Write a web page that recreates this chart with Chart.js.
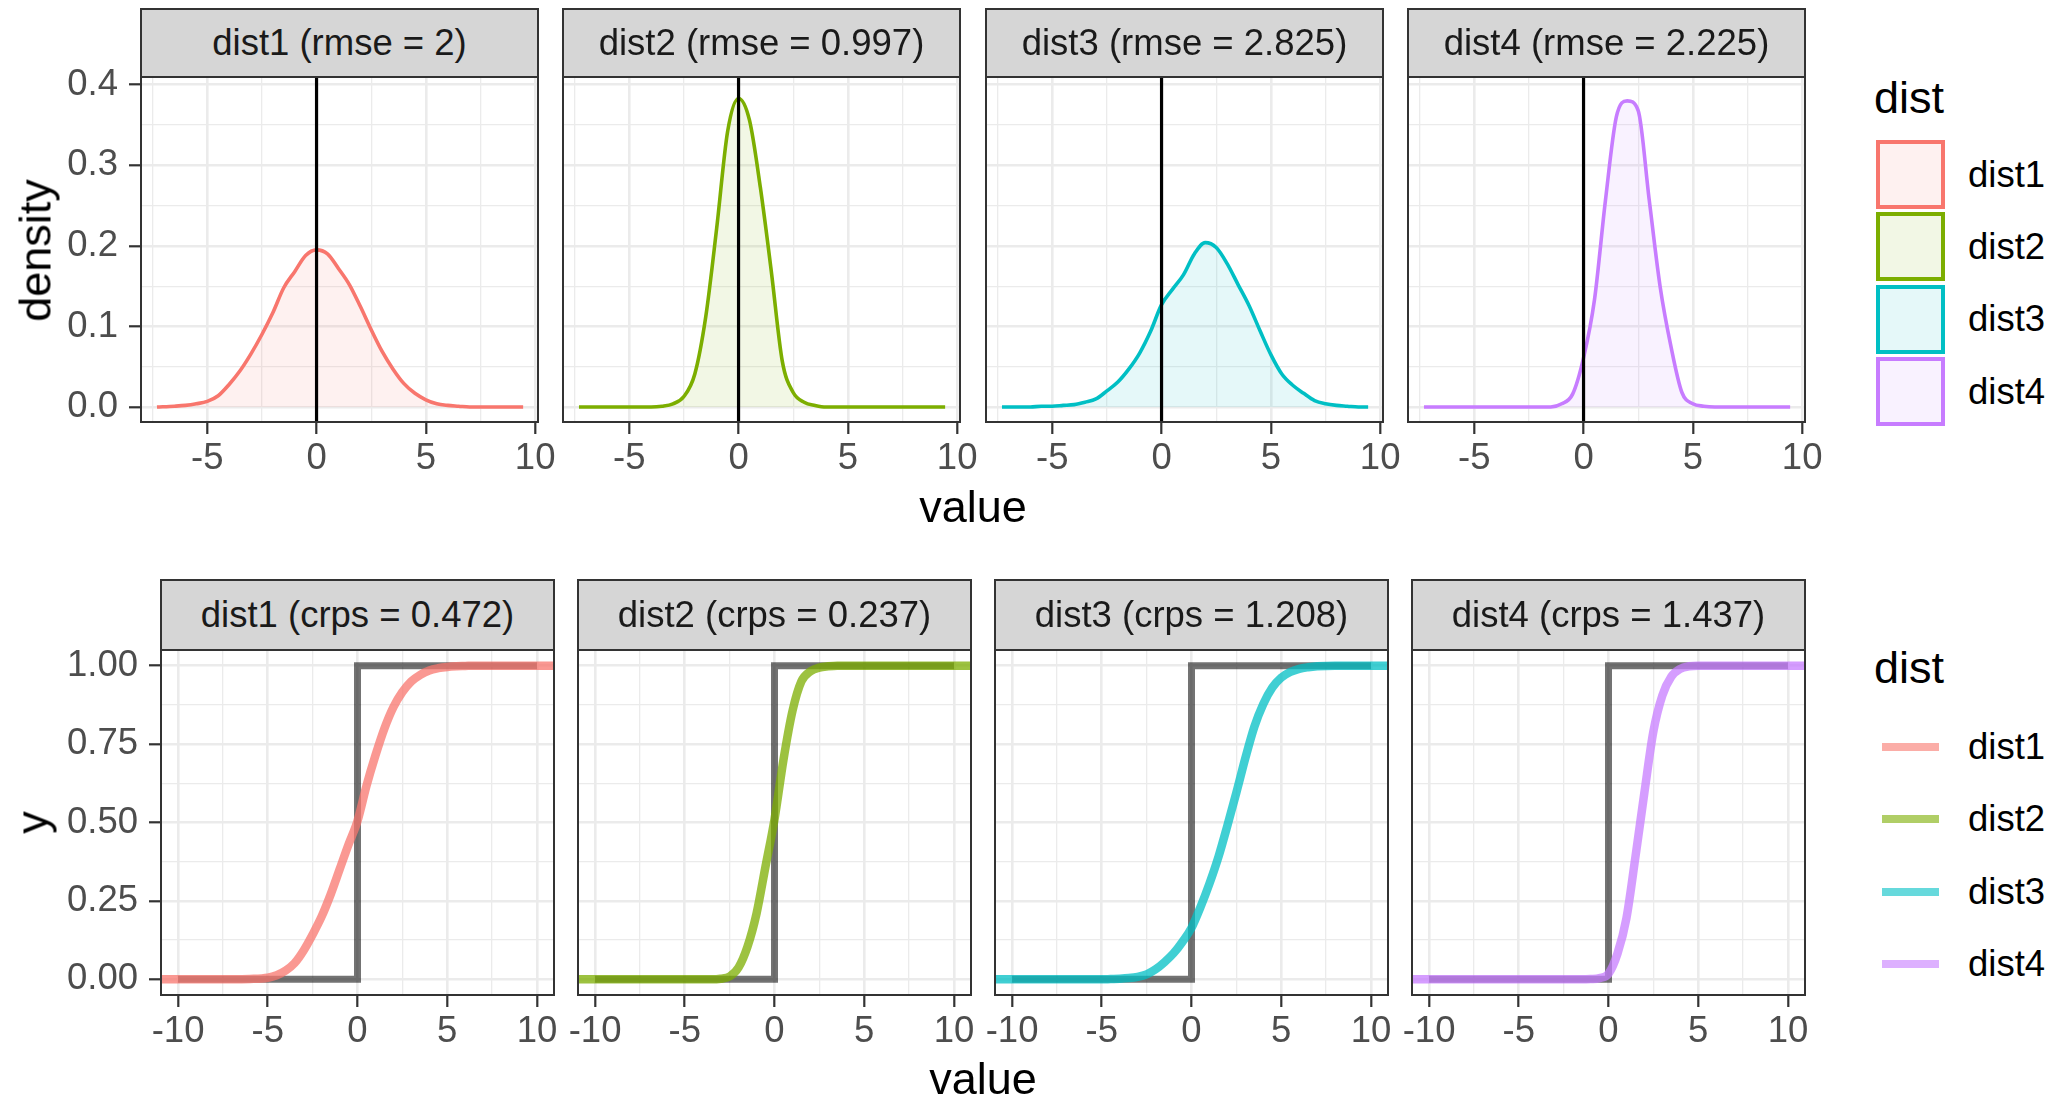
<!DOCTYPE html>
<html><head><meta charset="utf-8">
<script src="https://cdn.jsdelivr.net/npm/chart.js@4.4.1/dist/chart.umd.min.js"></script>
<style>
html,body{margin:0;padding:0;background:#fff;}
body{position:relative;width:2067px;height:1098px;overflow:hidden;font-family:'Liberation Sans',Arial,Helvetica,sans-serif;}
canvas{position:absolute;}
.strip{position:absolute;box-sizing:border-box;background:#D6D6D6;border:2px solid #333;color:#1A1A1A;font-size:36.5px;display:flex;align-items:center;justify-content:center;white-space:nowrap;z-index:3;}
.txt{position:absolute;white-space:nowrap;color:#000;}
.title{font-size:45px;line-height:45px;height:45px;width:300px;text-align:center;}
.leg{font-size:36.5px;line-height:36px;height:36px;}
.key{position:absolute;box-sizing:border-box;}
</style></head><body>
<script>
// ---------- data ----------
const distNames = ['dist1','dist2','dist3','dist4'];
const distColors = ['#F8766D','#7CAE00','#00BFC4','#C77CFF'];
const rmseValues = ['2','0.997','2.825','2.225'];
const crpsValues = ['0.472','0.237','1.208','1.437'];
const observed = 0;

const densityX = [-7.3,-6.5,-6,-5.5,-5,-4.5,-4,-3.5,-3,-2.5,-2,-1.5,-1,-0.5,0,0.5,1,1.5,2,2.5,3,3.5,4,4.5,5,5.5,6,6.5,7,7.5,8,8.5,9,9.45];
const density1 = [0,0.001,0.002,0.004,0.007,0.014,0.028,0.045,0.066,0.09,0.117,0.148,0.168,0.188,0.195,0.19,0.172,0.152,0.125,0.096,0.069,0.047,0.029,0.017,0.009,0.004,0.002,0.001,0,0,0,0,0,0];
const density2 = [0,0,0,0,0,0,0,0.001,0.004,0.013,0.041,0.112,0.222,0.342,0.383,0.356,0.272,0.168,0.057,0.018,0.006,0.002,0,0,0,0,0,0,0,0,0,0,0,0];
const density3 = [0,0,0,0.001,0.001,0.002,0.003,0.006,0.01,0.02,0.031,0.047,0.067,0.094,0.127,0.146,0.164,0.19,0.204,0.198,0.178,0.152,0.126,0.095,0.065,0.041,0.027,0.017,0.008,0.004,0.002,0.001,0,0];
const density4 = [0,0,0,0,0,0,0,0,0,0,0,0,0.004,0.016,0.061,0.133,0.256,0.36,0.38,0.368,0.258,0.15,0.075,0.018,0.004,0.001,0,0,0,0,0,0,0,0];

const cdfX = [-11,-10,-9,-8,-7,-6,-5,-4.5,-4,-3.5,-3,-2.5,-2,-1.5,-1,-0.5,0,0.5,1,1.5,2,2.5,3,3.5,4,4.5,5,5.5,6,6.5,7,8,9,10,11];
const cdf1 = [0,0,0,0,0,0.001,0.005,0.013,0.028,0.052,0.092,0.143,0.2,0.27,0.35,0.43,0.505,0.617,0.714,0.8,0.868,0.916,0.95,0.971,0.985,0.992,0.996,0.998,0.999,1,1,1,1,1,1];
const cdf2 = [0,0,0,0,0,0,0,0,0,0,0.002,0.009,0.038,0.105,0.21,0.36,0.51,0.7,0.855,0.95,0.982,0.994,0.998,1,1,1,1,1,1,1,1,1,1,1,1];
const cdf3 = [0,0,0,0,0,0,0,0.001,0.002,0.004,0.008,0.016,0.032,0.055,0.083,0.12,0.164,0.23,0.305,0.39,0.49,0.595,0.705,0.805,0.878,0.93,0.962,0.98,0.99,0.995,0.998,1,1,1,1];
const cdf4 = [0,0,0,0,0,0,0,0,0,0,0,0,0,0,0.001,0.004,0.018,0.082,0.195,0.39,0.595,0.79,0.905,0.965,0.99,0.998,1,1,1,1,1,1,1,1,1];

// observation as a CDF step: 0 below the observed value, 1 from it on
const obsStepX = [-10, observed, observed, 10];
const obsStepY = [0, 0, 1, 1];

const densityXTicks = [-5,0,5,10];
const densityYTicks = [0,0.1,0.2,0.3,0.4];
const cdfXTicks = [-10,-5,0,5,10];
const cdfYTicks = [0,0.25,0.5,0.75,1];

const densitySeries = [density1,density2,density3,density4];
const cdfSeries = [cdf1,cdf2,cdf3,cdf4];

// ---------- layout ----------
const FONT = "'Liberation Sans', Arial, Helvetica, sans-serif";
Chart.defaults.font.family = FONT;
const topRow = {lefts:[141,563,986,1408], w:397, top:77, h:345, xMin:-8.03, xMax:10.13, yMin:-0.0186, yMax:0.4096};
const botRow = {lefts:[161,578,995,1412], w:393, top:650, h:345, xMin:-10.95, xMax:10.95, yMin:-0.05, yMax:1.05};

function hexA(hex, a){const n=parseInt(hex.slice(1),16);return `rgba(${n>>16&255},${n>>8&255},${n&255},${a})`;}
function pts(xs, ys){return xs.map((x,i)=>({x:x,y:ys[i]}));}
function withMinors(majors, min, max){
  const step = majors[1]-majors[0];
  const minors = majors.map(m=>m-step/2).concat([majors[majors.length-1]+step/2]).filter(v=>v>min&&v<max);
  return majors.concat(minors).sort((a,b)=>a-b);
}
function isMajor(list, v){return list.some(m=>Math.abs(m-v)<1e-9);}

const panelBorder = {id:'panelBorder', afterDraw(chart){
  const {ctx, chartArea:a} = chart; ctx.save(); ctx.strokeStyle='#333333'; ctx.lineWidth=2;
  ctx.strokeRect(a.left, a.top, a.right-a.left, a.bottom-a.top); ctx.restore();
}};

function makeScale(axis, min, max, majors, showLabels, fmt, sizeFn){
  const all = withMinors(majors, min, max);
  return {
    type:'linear', min:min, max:max,
    afterBuildTicks: s => { s.ticks = all.map(v=>({value:v})); },
    afterFit: s => { sizeFn(s); s.paddingLeft=0; s.paddingRight=0; s.paddingTop=0; s.paddingBottom=0; },
    ticks:{display:showLabels, autoSkip:false, maxRotation:0, minRotation:0,
      padding: axis==='x' ? 3 : 11, color:'#4D4D4D', font:{family:FONT, size:36.5},
      callback: v => isMajor(majors, v) ? fmt(v) : ''},
    grid:{color:'#EBEBEB', drawOnChartArea:true, drawTicks: showLabels || axis==='x', tickLength:12,
      lineWidth: c => (c.tick && isMajor(majors, c.tick.value)) ? 2.6 : 1.3,
      tickColor: c => (c.tick && isMajor(majors, c.tick.value)) ? '#333333' : 'rgba(0,0,0,0)',
      tickWidth: 2.2},
    border:{display:false}
  };
}

function makePanel(row, i, datasets, xMajors, yMajors, yFmt){
  const first = i===0;
  const padL = first ? row.lefts[0]-36 : 14, padR = 24, padT = 12, padB = 70;
  const W = row.w+padL+padR, H = row.h+padT+padB;
  const c = document.createElement('canvas');
  c.width=W; c.height=H;
  c.style.left=(row.lefts[i]-padL)+'px'; c.style.top=(row.top-padT)+'px';
  c.style.width=W+'px'; c.style.height=H+'px';
  document.body.appendChild(c);
  new Chart(c, {
    type:'line',
    data:{datasets:datasets},
    options:{
      responsive:false, animation:false, devicePixelRatio:1, events:[],
      layout:{padding:{left: first?0:padL, right:padR, top:padT, bottom:0}},
      plugins:{legend:{display:false}, tooltip:{enabled:false}},
      elements:{point:{radius:0}},
      scales:{
        x: makeScale('x', row.xMin, row.xMax, xMajors, true, v=>String(v), s=>{s.height=padB;}),
        y: makeScale('y', row.yMin, row.yMax, yMajors, first, yFmt, s=>{s.width= first?padL:0;})
      }
    },
    plugins:[panelBorder]
  });
}

function addStrip(left, top, w, h, text){
  const d=document.createElement('div'); d.className='strip';
  d.style.left=left+'px'; d.style.top=top+'px'; d.style.width=w+'px'; d.style.height=h+'px';
  d.textContent=text; document.body.appendChild(d);
}
function addText(cls, text, left, top, extra){
  const d=document.createElement('div'); d.className='txt '+cls; d.textContent=text;
  d.style.left=left+'px'; d.style.top=top+'px'; if(extra) Object.assign(d.style, extra);
  document.body.appendChild(d); return d;
}

// ---------- top row: densities ----------
distNames.forEach((name,i)=>{
  makePanel(topRow, i, [
    {data:[{x:observed,y:topRow.yMin},{x:observed,y:topRow.yMax}], borderColor:'#000', borderWidth:3.2, pointRadius:0, order:1, clip:0},
    {data:pts(densityX, densitySeries[i]), borderColor:distColors[i], backgroundColor:hexA(distColors[i],0.1),
     fill:'origin', borderWidth:3.6, pointRadius:0, cubicInterpolationMode:'monotone', order:2}
  ], densityXTicks, densityYTicks, v=>v.toFixed(1));
  addStrip(topRow.lefts[i]-1, 8, topRow.w+2, 70, `${name} (rmse = ${rmseValues[i]})`);
});

// ---------- bottom row: CDFs ----------
distNames.forEach((name,i)=>{
  makePanel(botRow, i, [
    {data:pts(cdfX, cdfSeries[i]), borderColor:hexA(distColors[i],0.75), borderWidth:8.5, pointRadius:0,
     cubicInterpolationMode:'monotone', order:1, clip:0},
    {data:pts(obsStepX, obsStepY), borderColor:'rgba(0,0,0,0.55)', borderWidth:7, pointRadius:0, tension:0,
     borderJoinStyle:'miter', borderCapStyle:'butt', order:2, clip:0}
  ], cdfXTicks, cdfYTicks, v=>v.toFixed(2));
  addStrip(botRow.lefts[i]-1, 579, botRow.w+2, 72, `${name} (crps = ${crpsValues[i]})`);
});

// ---------- axis titles ----------
addText('title', 'density', 35-150, 250-22.5, {transform:'rotate(-90deg)'});
addText('title', 'y', 31.6-150, 822.5-22.5, {transform:'rotate(-90deg)'});
addText('title', 'value', 973-150, 484);
addText('title', 'value', 983-150, 1056);

// ---------- legends ----------
addText('title', 'dist', 1874, 75, {width:'auto', textAlign:'left'});
addText('title', 'dist', 1874, 645, {width:'auto', textAlign:'left'});
distNames.forEach((name,i)=>{
  const c1 = 174.6 + 72.3*i;
  const k = document.createElement('div'); k.className='key';
  Object.assign(k.style,{left:'1876px', top:(c1-34.5)+'px', width:'69px', height:'69px',
    border:'4px solid '+distColors[i], background:hexA(distColors[i],0.1)});
  document.body.appendChild(k);
  addText('leg', name, 1968, c1-18);
  const c2 = 747 + 72.3*i;
  const l = document.createElement('div'); l.className='key';
  Object.assign(l.style,{left:'1882px', top:(c2-4)+'px', width:'57px', height:'8px', background:hexA(distColors[i],0.6)});
  document.body.appendChild(l);
  addText('leg', name, 1968, c2-18);
});
</script>
</body></html>
